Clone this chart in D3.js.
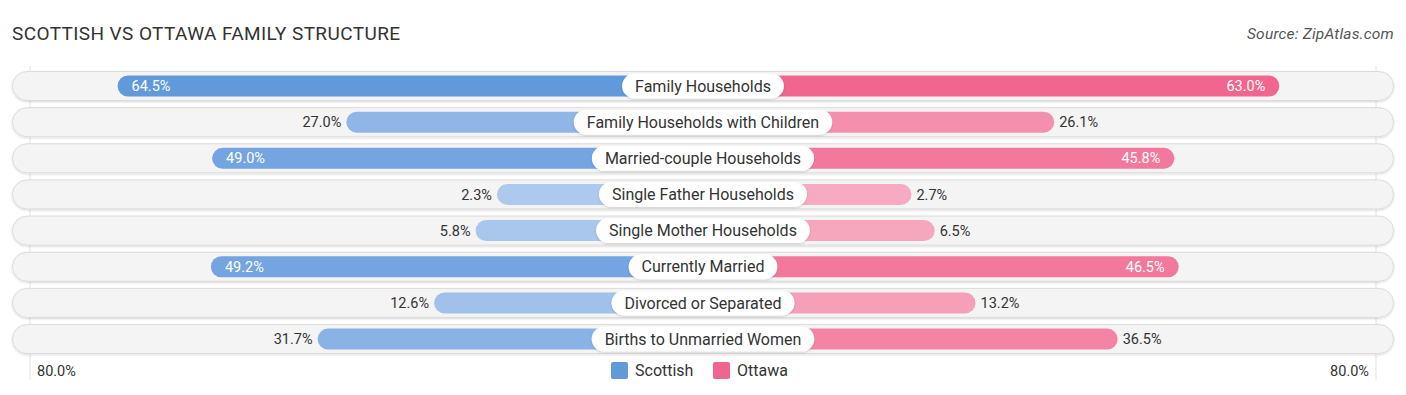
<!DOCTYPE html>
<html>
<head>
<meta charset="utf-8">
<script src="https://cdn.jsdelivr.net/npm/d3@7"></script>
<style>
  body { margin: 0; background: #fff; font-family: Roboto, "Noto Sans", sans-serif; }
  svg { display: block; }
</style>
</head>
<body>
<div id="chart"></div>
<script>
const categories = [
  'Family Households',
  'Family Households with Children',
  'Married-couple Households',
  'Single Father Households',
  'Single Mother Households',
  'Currently Married',
  'Divorced or Separated',
  'Births to Unmarried Women'
];
const scottish = [64.5, 27.0, 49.0, 2.3, 5.8, 49.2, 12.6, 31.7];
const ottawa = [63.0, 26.1, 45.8, 2.7, 6.5, 46.5, 13.2, 36.5];
const seriesNames = ['Scottish', 'Ottawa'];
const axisMax = 80;

const width = 1406, height = 395;
const cx = 703;
const rowTop = 86, rowStep = 36.15;
const barH = 21, rowH = 29;

const svg = d3.select('#chart').append('svg')
  .attr('width', width).attr('height', height);

const defs = svg.append('defs');
const f = defs.append('filter').attr('id', 'sh').attr('x', '-5%').attr('y', '-30%').attr('width', '110%').attr('height', '160%');
f.append('feDropShadow').attr('dx', 0).attr('dy', 1).attr('stdDeviation', 1.2).attr('flood-color', '#000').attr('flood-opacity', 0.16);

// length from the centre line, includes the room taken by the label
const len = d3.scaleLinear().domain([0, axisMax]).range([192, 680]);
const y = d3.scaleBand().domain(categories)
  .range([rowTop - rowStep / 2, rowTop - rowStep / 2 + rowStep * categories.length]);

const blue = d3.interpolateRgb('#b0cbee', '#6199db');
const pink = d3.interpolateRgb('#f7aec4', '#f0648d');
const maxV = d3.max(scottish.concat(ottawa));

svg.append('text')
  .attr('x', 12).attr('y', 40)
  .attr('font-size', 19).attr('letter-spacing', 0.4).attr('fill', '#333')
  .text('SCOTTISH VS OTTAWA FAMILY STRUCTURE');

svg.append('text')
  .attr('x', 1394).attr('y', 39)
  .attr('text-anchor', 'end').attr('font-size', 15.5).attr('letter-spacing', 0.2)
  .attr('font-style', 'italic').attr('fill', '#555')
  .text('Source: ZipAtlas.com');

// grid lines at 80%
[30, 1376].forEach(x => {
  svg.append('line').attr('x1', x).attr('x2', x).attr('y1', 66).attr('y2', 380)
    .attr('stroke', '#e2e2e2').attr('stroke-width', 1);
});

const rows = svg.selectAll('.row').data(categories).join('g')
  .attr('class', 'row')
  .attr('transform', d => `translate(0, ${y(d) + y.bandwidth() / 2})`);

rows.append('rect')
  .attr('x', 12.5).attr('y', -rowH / 2).attr('width', 1381).attr('height', rowH)
  .attr('rx', rowH / 2).attr('fill', '#f4f4f4').attr('stroke', '#dcdcdc').attr('stroke-width', 1)
  .attr('filter', 'url(#sh)');

rows.append('rect')
  .attr('x', (d, i) => cx - len(scottish[i]))
  .attr('y', -barH / 2).attr('height', barH)
  .attr('width', (d, i) => len(scottish[i]))
  .attr('rx', barH / 2)
  .attr('fill', (d, i) => blue(scottish[i] / maxV));

rows.append('rect')
  .attr('x', cx)
  .attr('y', -barH / 2).attr('height', barH)
  .attr('width', (d, i) => len(ottawa[i]))
  .attr('rx', barH / 2)
  .attr('fill', (d, i) => pink(ottawa[i] / maxV));

const inside = v => v > 40;

rows.append('text')
  .attr('x', (d, i) => cx - len(scottish[i]) + (inside(scottish[i]) ? 14 : -5))
  .attr('dy', '0.35em')
  .attr('text-anchor', (d, i) => inside(scottish[i]) ? 'start' : 'end')
  .attr('font-size', 14.5)
  .attr('fill', (d, i) => inside(scottish[i]) ? '#fff' : '#333')
  .text((d, i) => scottish[i].toFixed(1) + '%');

rows.append('text')
  .attr('x', (d, i) => cx + len(ottawa[i]) + (inside(ottawa[i]) ? -14 : 5))
  .attr('dy', '0.35em')
  .attr('text-anchor', (d, i) => inside(ottawa[i]) ? 'end' : 'start')
  .attr('font-size', 14.5)
  .attr('fill', (d, i) => inside(ottawa[i]) ? '#fff' : '#333')
  .text((d, i) => ottawa[i].toFixed(1) + '%');

// centre labels
rows.each(function(d) {
  const g = d3.select(this);
  const t = g.append('text')
    .attr('x', cx).attr('dy', '0.35em').attr('text-anchor', 'middle')
    .attr('font-size', 16).attr('fill', '#333').text(d);
  const w = t.node().getComputedTextLength() + 26;
  g.insert('rect', function() { return t.node(); })
    .attr('x', cx - w / 2).attr('y', -12.5).attr('width', w).attr('height', 25)
    .attr('rx', 12.5).attr('fill', '#fff').attr('filter', 'url(#sh)');
});

// axis ends
svg.append('text').attr('x', 37).attr('y', 376).attr('font-size', 14.5).attr('fill', '#333')
  .text(axisMax.toFixed(1) + '%');
svg.append('text').attr('x', 1369).attr('y', 376).attr('text-anchor', 'end').attr('font-size', 14.5).attr('fill', '#333')
  .text(axisMax.toFixed(1) + '%');

// legend
const legend = svg.append('g').attr('transform', 'translate(611, 362)');
const colors = [blue(1), pink(1)];
const lx = [0, 102];
seriesNames.forEach((n, i) => {
  legend.append('rect').attr('x', lx[i]).attr('y', 0).attr('width', 17).attr('height', 17)
    .attr('rx', 2).attr('fill', colors[i]);
  legend.append('text').attr('x', lx[i] + 24).attr('y', 8.5).attr('dy', '0.35em')
    .attr('font-size', 16).attr('fill', '#333').text(n);
});
</script>
</body>
</html>
